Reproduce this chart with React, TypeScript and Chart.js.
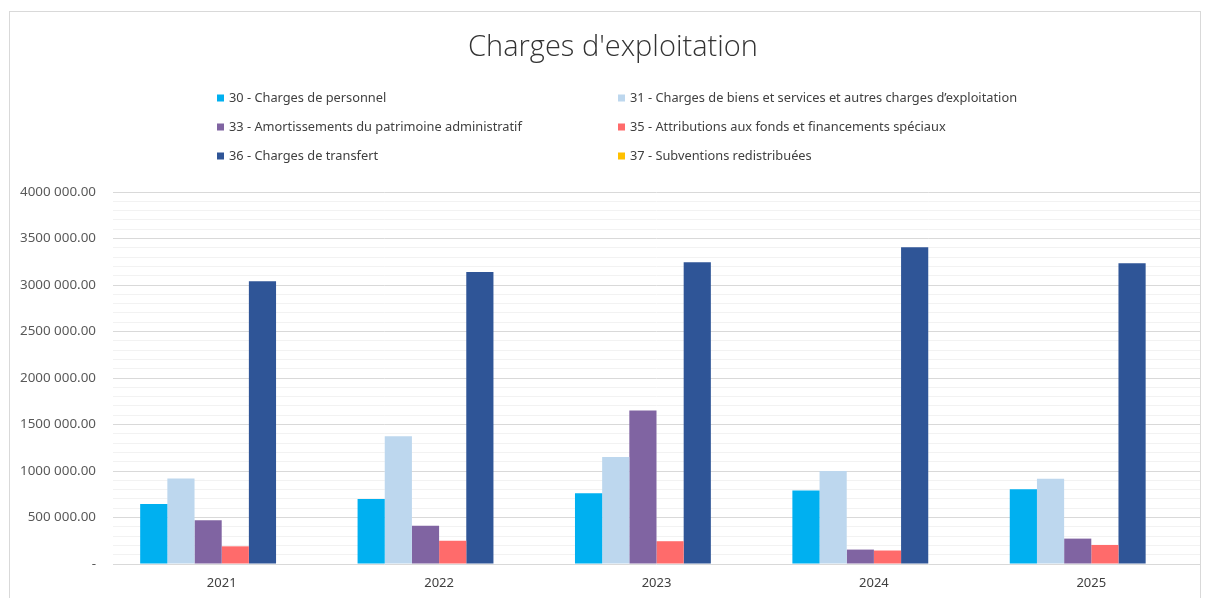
import React, { useEffect, useRef } from 'react';
import { Chart, registerables } from 'chart.js';

Chart.register(...registerables);

const categories = ['2021', '2022', '2023', '2024', '2025'];

const seriesLabels = [
  '30 - Charges de personnel',
  '31 - Charges de biens et services et autres charges d\u2019exploitation',
  '33 - Amortissements du patrimoine administratif',
  '35 - Attributions aux fonds et financements spéciaux',
  '36 - Charges de transfert',
  '37 - Subventions redistribuées',
];

const s30 = [645000, 700000, 760000, 790000, 803000];
const s31 = [920000, 1375000, 1150000, 1000000, 918000];
const s33 = [470000, 410000, 1650000, 155000, 273000];
const s35 = [190000, 250000, 245000, 145000, 205000];
const s36 = [3040000, 3140000, 3245000, 3405000, 3233000];
const s37 = [0, 0, 0, 0, 0];

const seriesValues = [s30, s31, s33, s35, s36, s37];
const seriesColors = ['#00B0F0', '#BDD7EE', '#8064A2', '#FF6B6B', '#2F5597', '#FFC000'];

const yMin = 0;
const yMax = 4000000;
const yMajorStep = 500000;
const yMinorStep = 100000;

const chartTitle = "Charges d'exploitation";

function formatTick(v: number): string {
  if (v === 0) return '-';
  const thousands = Math.floor(v / 1000);
  const rest = String(Math.round(v % 1000)).padStart(3, '0');
  return `${thousands} ${rest}.00`;
}

const decorPlugin = {
  id: 'decor',
  beforeDraw(chart: any) {
    const ctx = chart.ctx;
    ctx.save();
    ctx.fillStyle = '#ffffff';
    ctx.fillRect(0, 0, chart.width, chart.height);
    ctx.strokeStyle = '#d9d9d9';
    ctx.lineWidth = 1;
    ctx.strokeRect(9.5, 11.5, 1191, 620);
    ctx.restore();
  },
  afterDraw(chart: any) {
    const ctx = chart.ctx;
    ctx.save();
    // title
    ctx.fillStyle = '#333333';
    ctx.font = '300 29px "Open Sans"';
    ctx.textAlign = 'center';
    ctx.textBaseline = 'middle';
    ctx.fillText(chartTitle, 613, 48);
    // legend
    const colX = [217, 618];
    const rowY = [98, 127, 156];
    ctx.font = '12.8px "Noto Sans"';
    ctx.textAlign = 'left';
    chart.data.datasets.forEach((ds: any, i: number) => {
      const x = colX[i % 2];
      const y = rowY[Math.floor(i / 2)];
      ctx.fillStyle = ds.backgroundColor;
      ctx.fillRect(x, y - 3.5, 7, 7);
      ctx.fillStyle = '#404040';
      ctx.fillText(ds.label, x + 12, y);
    });
    ctx.restore();
  },
};

export default function App() {
  const canvasRef = useRef<HTMLCanvasElement | null>(null);

  useEffect(() => {
    document.body.style.margin = '0';
    const canvas = canvasRef.current;
    if (!canvas) return;
    const chart = new Chart(canvas, {
      type: 'bar',
      data: {
        labels: categories,
        datasets: seriesValues.map((vals, i) => ({
          label: seriesLabels[i],
          data: vals,
          backgroundColor: seriesColors[i],
          borderWidth: 0,
          categoryPercentage: 0.75,
          barPercentage: 1.0,
        })),
      },
      options: {
        animation: false,
        responsive: false,
        devicePixelRatio: 1,
        layout: { padding: { top: 192, right: 6, bottom: 0, left: 0 } },
        plugins: {
          legend: { display: false },
          title: { display: false },
          tooltip: { enabled: false },
        },
        scales: {
          x: {
            offset: true,
            grid: { display: false, drawTicks: false },
            border: { display: false },
            ticks: {
              color: '#404040',
              font: { family: '"Noto Sans"', size: 13 },
              padding: 11,
            },
            afterFit(scale: any) {
              scale.height = 34;
            },
          },
          y: {
            min: yMin,
            max: yMax,
            border: { display: false },
            grid: {
              drawTicks: false,
              color: (c: any) =>
                c.tick && c.tick.value % yMajorStep === 0 ? '#d9d9d9' : '#f2f2f2',
              lineWidth: 1,
            },
            ticks: {
              stepSize: yMinorStep,
              autoSkip: false,
              color: '#595959',
              font: { family: '"Noto Sans"', size: 13.4 },
              padding: 17,
              callback: (v: any) => (Number(v) % yMajorStep === 0 ? formatTick(Number(v)) : ''),
            },
            afterFit(scale: any) {
              scale.width = 113;
            },
          },
        },
      },
      plugins: [decorPlugin],
    });
    return () => chart.destroy();
  }, []);

  return (
    <div style={{ width: 1206, height: 598, overflow: 'hidden' }}>
      <canvas ref={canvasRef} width={1206} height={598} style={{ display: 'block', width: 1206, height: 598 }} />
    </div>
  );
}
